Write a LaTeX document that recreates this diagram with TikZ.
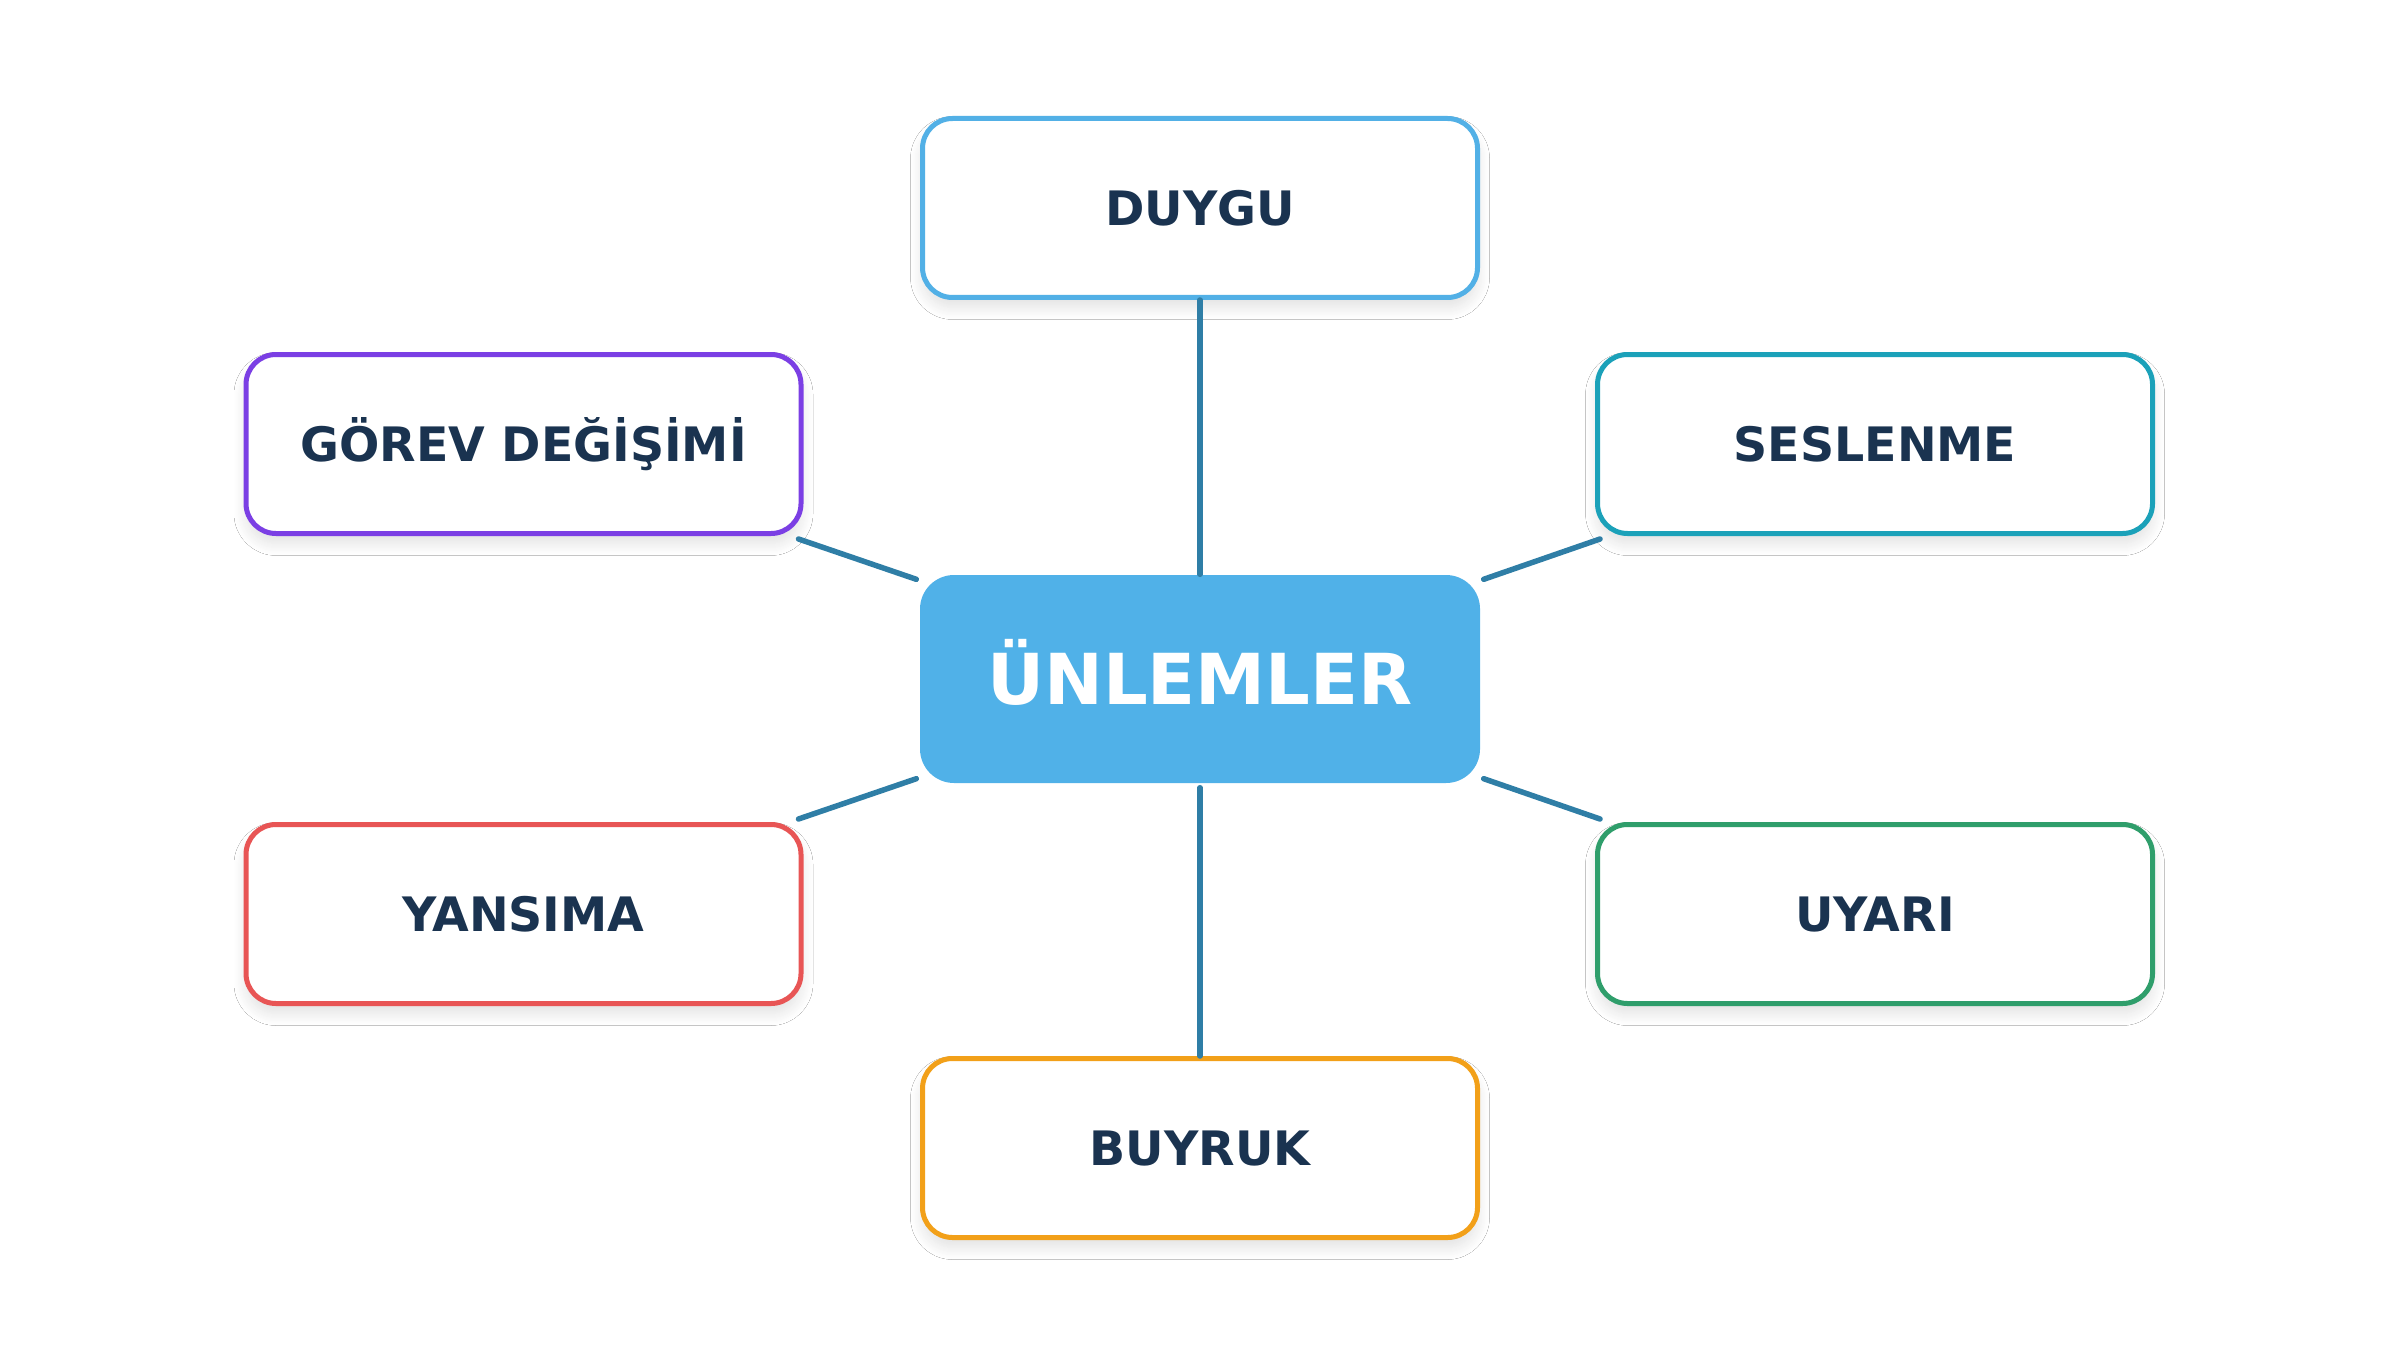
\documentclass[tikz,border=0pt]{standalone}
\usepackage{fontspec}
\setmainfont{DejaVu Sans}
\usetikzlibrary{calc,shadows.blur}
\definecolor{txt}{HTML}{1A3350}
\definecolor{conn}{HTML}{2F7EA6}
\definecolor{cfill}{HTML}{50B1E8}
\definecolor{cduygu}{HTML}{52B0E6}
\definecolor{cgorev}{HTML}{7B3FE4}
\definecolor{cses}{HTML}{1BA1B9}
\definecolor{cyans}{HTML}{E85555}
\definecolor{cuyari}{HTML}{2F9E6B}
\definecolor{cbuy}{HTML}{F2A019}
\tikzset{
  leaf/.style={draw=#1, fill=white, rounded corners=0.3cm, line width=0.05cm,
    minimum width=5.55cm, minimum height=1.79cm, inner sep=0pt,
    text=txt, font=\fontsize{13.5}{16}\selectfont\bfseries,
    text height=9.84pt, text depth=0pt,
    blur shadow={shadow xshift=0pt, shadow yshift=-0.1cm, shadow blur radius=0.12cm, shadow blur steps=12, shadow opacity=12}},
  hub/.style={fill=cfill, rounded corners=0.34cm, minimum width=5.6cm, minimum height=2.08cm,
    inner sep=0pt, text=white, font=\fontsize{20}{24}\selectfont\bfseries,
    text height=14.58pt, text depth=0pt},
  link/.style={draw=conn, line width=0.055cm, line cap=round}
}
\begin{document}
\begin{tikzpicture}
\useasboundingbox[fill=white] (0,0) rectangle (24,13.5);
\node[hub] (c) at (12,6.71) {ÜNLEMLER};
\node[leaf=cduygu] (d) at (12,11.42) {DUYGU};
\node[leaf=cgorev] (g) at (5.235,9.06) {GÖREV DEĞİŞİMİ};
\node[leaf=cses] (s) at (18.75,9.06) {SESLENME};
\node[leaf=cyans] (y) at (5.235,4.36) {YANSIMA};
\node[leaf=cuyari] (u) at (18.75,4.36) {UYARI};
\node[leaf=cbuy] (b) at (12,2.02) {BUYRUK};
\draw[link] (d.south) -- (c.north);
\draw[link] ($(c.south)+(0,-0.04)$) -- (b.north);
\draw[link] ($(c.north west)+(-0.03,-0.05)$) -- ($(g.south east)+(-0.05,-0.03)$);
\draw[link] ($(c.north east)+(0.03,-0.05)$) -- ($(s.south west)+(0.05,-0.03)$);
\draw[link] ($(c.south west)+(-0.03,0.05)$) -- ($(y.north east)+(-0.05,0.03)$);
\draw[link] ($(c.south east)+(0.03,0.05)$) -- ($(u.north west)+(0.05,0.03)$);
\end{tikzpicture}
\end{document}
